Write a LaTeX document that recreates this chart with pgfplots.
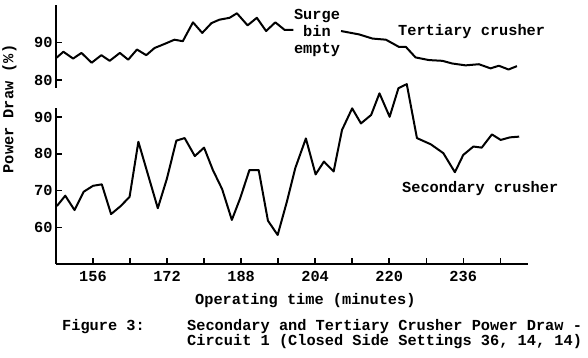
\documentclass[border=0pt]{standalone}
\usepackage{pgfplots}
\pgfplotsset{compat=1.18}
\usepackage{fontspec}
\setmainfont{Liberation Mono}
\newcommand\tf{\fontsize{15.3}{12.5}\selectfont\bfseries}
\begin{document}
\begin{tikzpicture}[x=1pt,y=1pt]
\useasboundingbox (0,0) rectangle (588,358);
\pgfplotsset{
  crush/.style={
    scale only axis, width=472pt, xmin=148, xmax=250,
    tick align=inside, major tick length=6pt,
    axis line style={line width=1.6pt,-},
    every tick/.style={black,line width=1.4pt},
    ticklabel style={font=\tf},
    /pgf/number format/assume math mode=true,
    clip=false,
  },
  ser/.style={black,line width=2pt,line join=round,no marks},
}
% lower axis (secondary crusher)
\begin{axis}[crush, at={(56pt,94pt)}, anchor=south west, height=156pt,
  ymin=50, ymax=92.5,
  axis x line*=bottom, axis y line*=left,
  xtick={156,164,...,244}, xticklabels={156,,172,,188,,204,,220,,236,},
  xticklabel style={yshift=-4pt},
  ytick={60,70,80,90}]
\addplot[ser] coordinates {
(148.2,65.8) (150.0,68.6) (152.0,64.7) (154.0,69.7) (156.0,71.3) (157.9,71.7)
(159.9,63.6) (162.0,65.8) (163.9,68.3) (165.8,83.3) (170.0,65.2) (172.0,73.4)
(174.0,83.6) (175.8,84.3) (178.0,79.4) (180.0,81.7) (181.9,75.6) (183.9,70.4)
(186.0,62.0) (187.8,67.9) (189.8,75.6) (191.8,75.6) (193.8,61.8) (195.9,57.9)
(197.9,67.0) (199.7,76.1) (202.0,84.2) (204.1,74.4) (205.9,77.9) (208.0,75.2)
(209.8,86.5) (212.0,92.4) (213.9,88.3) (216.1,90.6) (217.9,96.5) (220.1,90.1)
(222.0,97.9) (223.8,99.0) (226.0,84.3) (229.0,82.6) (231.7,80.2) (234.2,75.0)
(236.0,79.7) (238.2,82.0) (240.0,81.7) (242.2,85.3) (244.1,83.8) (246.1,84.5)
(248.1,84.7)
};
\end{axis}
% upper axis (tertiary crusher)
\begin{axis}[crush, at={(56pt,270pt)}, anchor=south west, height=83pt,
  ymin=77.9, ymax=99.9,
  axis x line=none, axis y line*=left,
  ytick={80,90}]
\addplot[ser] coordinates {
(148.0,85.8) (149.6,87.5) (151.7,85.7) (153.5,87.2) (155.7,84.6) (157.8,86.6)
(159.6,85.1) (161.8,87.2) (163.6,85.4) (165.5,88.1) (167.5,86.6) (169.3,88.5)
(171.5,89.6) (173.6,90.7) (175.4,90.3) (177.6,95.3) (179.6,92.5) (181.6,95.1)
(183.3,96.0) (185.5,96.5) (187.1,97.7) (189.4,94.5) (191.4,96.5) (193.4,93.0)
(195.4,95.3) (197.4,93.3) (199.3,93.3)
};
\addplot[ser] coordinates {
(209.6,93.0) (213.5,92.1) (216.4,91.0) (219.3,90.7) (222.1,88.8) (223.6,88.8)
(225.7,86.0) (228.6,85.3) (231.5,85.1) (233.6,84.4) (236.5,83.9) (239.4,84.2)
(241.9,83.1) (243.7,83.8) (245.8,82.8) (247.6,83.7)
};
\end{axis}
\begin{scope}[every node/.style={inner sep=0pt,font=\tf}]
\node[anchor=base] at (317,338.5) {Surge};
\node[anchor=base] at (317,321.5) {bin};
\node[anchor=base] at (317,304.5) {empty};
\node[anchor=base west] at (398,322) {Tertiary crusher};
\node[anchor=base west] at (402,165.3) {Secondary crusher};
\node[anchor=base west] at (195,53) {Operating time (minutes)};
\node[rotate=90,anchor=base] at (13.3,249) {Power Draw (\%)};
\node[anchor=base west] at (62,27.5) {Figure 3:};
\node[anchor=base west] at (187,27.5) {Secondary and Tertiary Crusher Power Draw -};
\node[anchor=base west] at (187,12.5) {Circuit 1 (Closed Side Settings 36, 14, 14)};
\end{scope}
\end{tikzpicture}
\end{document}
